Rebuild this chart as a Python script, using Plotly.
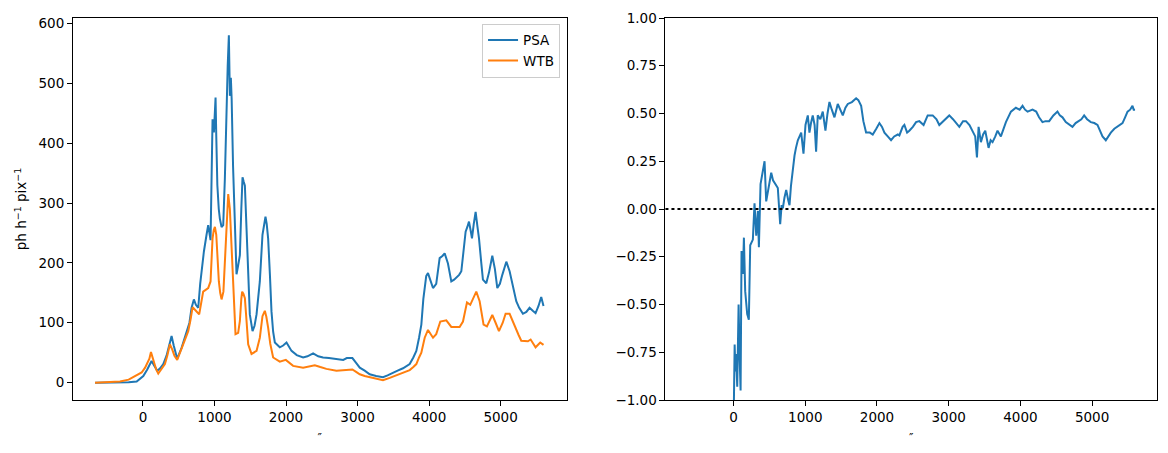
import plotly.graph_objects as go

# ---------------- data ----------------
psa_x = [-670, -400, -200, -88, 5, 60, 98, 120, 160, 200, 240, 284, 330, 377, 400, 430, 479, 540, 610, 650,
         680, 712, 740, 773, 800, 820, 852, 889, 912, 945, 960, 973, 992, 1005, 1015, 1025, 1040, 1060, 1075,
         1099, 1122, 1145, 1160, 1169, 1185, 1201, 1215, 1229, 1240, 1260, 1285, 1308, 1330, 1355, 1375, 1392,
         1410, 1425, 1448, 1470, 1494, 1532, 1560, 1588, 1634, 1671, 1690, 1713, 1730, 1750, 1775, 1797, 1820,
         1844, 1913, 1960, 2007, 2040, 2077, 2150, 2239, 2300, 2379, 2450, 2518, 2600, 2705, 2800, 2850, 2928,
         2980, 3031, 3100, 3170, 3260, 3356, 3420, 3496, 3560, 3636, 3700, 3729, 3780, 3822, 3860, 3892, 3920,
         3939, 3960, 3985, 4020, 4055, 4100, 4148, 4190, 4218, 4264, 4311, 4350, 4381, 4420, 4451, 4480, 4511,
         4535, 4558, 4580, 4600, 4625, 4651, 4675, 4698, 4730, 4753, 4800, 4840, 4884, 4920, 4954, 4990, 5024,
         5050, 5080, 5126, 5170, 5219, 5260, 5312, 5360, 5405, 5450, 5489, 5530, 5568, 5600]
psa_y = [0, 0, 0.5, 2, 11, 22, 31, 36, 28, 20, 24, 31, 45, 70, 78, 62, 40, 58, 86, 100,
         125, 139, 130, 125, 165, 191, 219, 247, 263, 238, 320, 440, 418, 460, 476, 412, 330, 290, 274,
         260, 263, 340, 420, 479, 530, 580, 479, 509, 474, 360, 241, 181, 195, 213, 290, 343,
         335, 329, 257, 180, 114, 86, 95, 114, 169, 247, 265, 277, 265, 241, 180, 119, 85,
         67, 59, 62, 67, 60, 53, 46, 42, 44, 49, 44, 42, 41, 40, 38, 41, 41,
         33, 25, 20, 14, 11, 9, 12, 17, 20, 24, 28, 31, 42, 53, 75, 97, 140,
         164, 178, 183, 170, 158, 165, 208, 212, 216, 199, 169, 172, 175, 180, 186, 220, 252,
         260, 269, 255, 241, 265, 285, 262, 241, 200, 172, 166, 185, 212, 190, 158, 165, 180,
         190, 202, 186, 160, 136, 125, 115, 118, 125, 120, 116, 128, 143, 128]

wtb_x = [-670, -500, -321, -200, -135, -60, -18, 30, 60, 90, 112, 135, 154, 185, 214, 260, 307, 340, 377,
         410, 440, 479, 520, 580, 633, 665, 694, 740, 786, 842, 880, 912, 945, 973, 990, 1006, 1025, 1045,
         1061, 1080, 1099, 1125, 1155, 1175, 1192, 1215, 1235, 1252, 1275, 1294, 1331, 1355, 1375, 1387, 1405,
         1425, 1450, 1471, 1518, 1588, 1634, 1671, 1704, 1725, 1750, 1780, 1820, 1913, 1997, 2050, 2099, 2239,
         2320, 2402, 2480, 2565, 2705, 2800, 2928, 2980, 3031, 3100, 3170, 3260, 3356, 3450, 3543, 3640, 3729,
         3780, 3822, 3860, 3892, 3939, 3985, 4055, 4100, 4157, 4241, 4311, 4427, 4474, 4530, 4576, 4620, 4660,
         4707, 4762, 4809, 4884, 4930, 4977, 5030, 5070, 5126, 5196, 5250, 5289, 5382, 5420, 5489, 5554, 5600]
wtb_y = [0, 0.5, 2, 5, 9, 13, 17, 25, 34, 40, 51, 42, 31, 22, 15, 22, 31, 45, 64,
         55, 45, 38, 50, 68, 86, 105, 126, 120, 114, 152, 155, 158, 169, 241, 255, 260, 247, 200,
         169, 150, 139, 152, 224, 290, 315, 290, 240, 191, 120, 81, 83, 103, 140, 152, 148,
         141, 100, 64, 48, 53, 75, 111, 120, 110, 92, 65, 42, 35, 38, 32, 28, 25,
         27, 29, 26, 23, 20, 21, 22, 18, 14, 11, 9, 6, 4, 8, 12, 17, 21,
         26, 31, 42, 50, 75, 88, 75, 81, 102, 104, 93, 93, 102, 134, 130, 142, 152,
         136, 97, 94, 113, 100, 86, 100, 115, 115, 94, 80, 70, 69, 72, 59, 67, 63]

corr_x = [5, 8, 15, 25, 35, 51, 70, 84, 98, 111, 130, 144, 162, 190, 213, 232, 250, 269, 292, 316, 339, 353,
          376, 409, 432, 455, 480, 501, 525, 550, 571, 600, 617, 650, 670, 687, 710, 734, 760, 780, 800, 817,
          850, 870, 896, 920, 943, 975, 1003, 1035, 1058, 1080, 1104, 1130, 1151, 1174, 1210, 1244, 1281, 1310,
          1337, 1370, 1407, 1453, 1490, 1523, 1560, 1593, 1650, 1709, 1740, 1779, 1810, 1848, 1900, 1941, 1990,
          2034, 2070, 2104, 2150, 2196, 2240, 2290, 2312, 2358, 2382, 2420, 2451, 2500, 2545, 2591, 2650, 2707,
          2777, 2830, 2869, 2930, 2985, 3008, 3060, 3100, 3148, 3200, 3241, 3290, 3333, 3370, 3394, 3417, 3449,
          3480, 3510, 3535, 3556, 3585, 3612, 3650, 3681, 3728, 3760, 3798, 3868, 3937, 3990, 4030, 4065, 4100,
          4169, 4220, 4260, 4308, 4350, 4401, 4460, 4517, 4550, 4587, 4633, 4680, 4726, 4770, 4819, 4850, 4889,
          4930, 4982, 5030, 5075, 5110, 5145, 5191, 5225, 5261, 5310, 5354, 5424, 5460, 5494, 5530, 5563, 5580, 5599]
corr_y = [-1.0, -0.81, -0.71, -0.85, -0.76, -0.93, -0.50, -0.77, -0.95, -0.22, -0.34, -0.15, -0.43, -0.55, -0.58,
          -0.19, -0.17, -0.16, 0.03, -0.14, -0.01, -0.20, 0.13, 0.21, 0.25, 0.04, 0.10, 0.14, 0.19, 0.15, 0.14,
          0.12, 0.11, -0.08, 0.02, 0.004, 0.06, 0.10, 0.05, 0.02, 0.12, 0.18, 0.28, 0.32, 0.36, 0.38, 0.40, 0.29,
          0.44, 0.49, 0.40, 0.45, 0.49, 0.44, 0.30, 0.49, 0.47, 0.51, 0.41, 0.50, 0.56, 0.52, 0.48, 0.55, 0.52,
          0.49, 0.53, 0.55, 0.56, 0.58, 0.57, 0.54, 0.46, 0.40, 0.40, 0.39, 0.42, 0.45, 0.43, 0.40, 0.38, 0.36,
          0.38, 0.39, 0.385, 0.43, 0.44, 0.40, 0.41, 0.43, 0.455, 0.46, 0.44, 0.49, 0.49, 0.47, 0.44, 0.46, 0.48,
          0.49, 0.47, 0.45, 0.43, 0.46, 0.46, 0.44, 0.41, 0.38, 0.27, 0.43, 0.35, 0.39, 0.41, 0.36, 0.32, 0.36,
          0.35, 0.38, 0.41, 0.38, 0.42, 0.455, 0.51, 0.53, 0.52, 0.54, 0.52, 0.51, 0.52, 0.51, 0.48, 0.455, 0.46,
          0.46, 0.49, 0.51, 0.49, 0.48, 0.455, 0.44, 0.43, 0.45, 0.46, 0.47, 0.49, 0.47, 0.455, 0.45, 0.44, 0.41,
          0.38, 0.36, 0.38, 0.40, 0.42, 0.43, 0.45, 0.48, 0.51, 0.52, 0.54, 0.52, 0.52]

x_ticks = [0, 1000, 2000, 3000, 4000, 5000]
left_y_ticks = [0, 100, 200, 300, 400, 500, 600]
right_y_ticks = [-1.0, -0.75, -0.5, -0.25, 0.0, 0.25, 0.5, 0.75, 1.0]
zero_level = 0.0

BLUE = "#1f77b4"
ORANGE = "#ff7f0e"
FONT = "DejaVu Sans"

fig = go.Figure()
fig.add_trace(go.Scatter(x=psa_x, y=psa_y, mode="lines", name="PSA",
                         line=dict(color=BLUE, width=2), xaxis="x", yaxis="y"))
fig.add_trace(go.Scatter(x=wtb_x, y=wtb_y, mode="lines", name="WTB",
                         line=dict(color=ORANGE, width=2), xaxis="x", yaxis="y"))
fig.add_trace(go.Scatter(x=corr_x, y=corr_y, mode="lines", showlegend=False,
                         line=dict(color=BLUE, width=2), xaxis="x2", yaxis="y2"))

fig.add_shape(type="line", xref="x2 domain", x0=0, x1=1, yref="y2", y0=zero_level, y1=zero_level,
              line=dict(color="black", width=2, dash="dot"), layer="above")

axis_common = dict(showline=True, linecolor="black", linewidth=1, mirror=True,
                   ticks="outside", ticklen=5, tickwidth=1, tickcolor="black",
                   showgrid=False, zeroline=False,
                   tickfont=dict(family=FONT, size=13.5, color="black"))

dom_left = [0, 494 / 1085]
dom_right = [593 / 1085, 1]

x_title = dict(text="″", font=dict(family=FONT, size=12, color="black"), standoff=9)

fig.update_layout(
    width=1168, height=453,
    margin=dict(l=73, r=10, t=15, b=53),
    paper_bgcolor="white", plot_bgcolor="white",
    font=dict(family=FONT, size=13.5, color="black"),
    xaxis=dict(domain=dom_left, range=[-978, 5922], tickvals=x_ticks, anchor="y",
               title=x_title, **axis_common),
    yaxis=dict(range=[-29, 609], tickvals=left_y_ticks, anchor="x",
               title=dict(text="ph h<sup>−1</sup> pix<sup>−1</sup>",
                          font=dict(family=FONT, size=13.5, color="black"), standoff=8),
               **axis_common),
    xaxis2=dict(domain=dom_right, range=[-950, 5905], tickvals=x_ticks, anchor="y2",
                title=x_title, **axis_common),
    yaxis2=dict(range=[-1, 1], tickvals=right_y_ticks, tickformat=".2f", anchor="x2", **axis_common),
    legend=dict(x=dom_left[1] - 0.006, y=0.985, xanchor="right", yanchor="top",
                bgcolor="rgba(255,255,255,0.8)", bordercolor="#cccccc", borderwidth=1,
                font=dict(family=FONT, size=13.5), tracegroupgap=2),
    showlegend=True,
)

fig.write_html("out.html")
